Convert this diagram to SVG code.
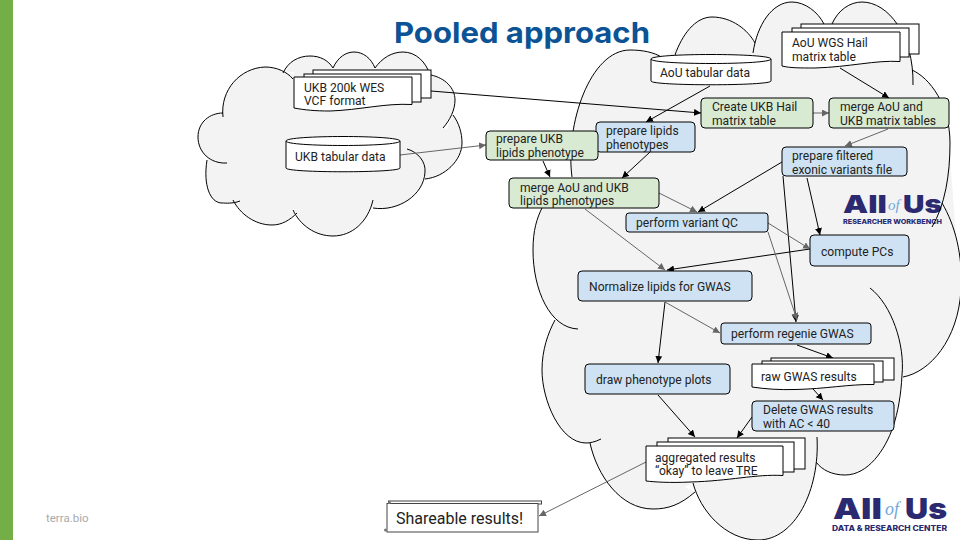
<svg xmlns="http://www.w3.org/2000/svg" xmlns:xlink="http://www.w3.org/1999/xlink" width="960" height="540" viewBox="0 0 960 540">
<style>
text{font-family:Roboto,"Liberation Sans",sans-serif;font-size:12.1px;fill:#222}
.title{font-family:Inter,"Liberation Sans",sans-serif;font-weight:700;font-size:29px;fill:#0b5394}
.s{stroke:#000;stroke-width:1;fill:#fff}
.g{stroke:#000;stroke-width:1;fill:#d9ead3}
.b{stroke:#000;stroke-width:1;fill:#cfe2f3}
.k line{stroke:#000;stroke-width:1;marker-end:url(#ak)}
.h line{stroke:#666;stroke-width:1;marker-end:url(#ah)}
.logo{font-family:Inter,"Liberation Sans",sans-serif;font-weight:900;fill:#2b2a70}
.of{font-family:"Liberation Serif",serif;font-style:italic;fill:#6fa8dc}
.sub{font-family:Inter,"Liberation Sans",sans-serif;font-weight:800;fill:#2b2a70}
.cf{fill:#f3f3f3;stroke:none}
.cp{fill:#f3f3f3;stroke:#f3f3f3;stroke-width:2}
.cs{fill:none;stroke:#000;stroke-width:1}
</style>
<defs>
<marker id="ak" markerWidth="8" markerHeight="8" refX="7" refY="3.500" orient="auto" markerUnits="userSpaceOnUse"><path d="M0,0L7,3.500L0,7z" fill="#000"/></marker>
<marker id="ah" markerWidth="8" markerHeight="8" refX="7" refY="3.500" orient="auto" markerUnits="userSpaceOnUse"><path d="M0,0L7,3.500L0,7z" fill="#666"/></marker>
<path id="lc" d="M223,117C220,90 240,68 265,67C277,67 287,72 293,79M283,73C288,62 298,56 310,56C320,56 328,60 333,68M333,68C338,57 346,52 354,52C363,52 371,58 375,68M375,68C382,58 392,52 403,52C416,52 426,62 430,75M431,75C445,78 455,88 455,100C455,110 450,120 443,128M453,115C459,123 462,133 462,143C462,160 445,177 425,179M407,149C418,152 426,162 425,172C424,195 398,212 373,208M373,200C368,222 352,236 333,236C315,236 300,225 293,210M297,213C290,220 282,225 272,225C255,225 240,214 233,200M240,201C232,204 226,203 222,203C210,203 203,185 207,160M227,163C210,164 198,152 198,137C198,122 210,113 223,113"/>
<path id="rc" d="M572,177C565,125 590,50 630,50C642,50 654,52 663,58M675,55C682,35 695,17 712,17C732,17 748,30 755,43M753,53C757,25 772,2 792,2C805,2 818,12 824,24M832,24C838,10 850,2 862,2C888,2 914,35 913,85M912,70C930,78 950,105 950,143C950,175 945,205 932,227M942,203C955,225 963,255 961,290C958,340 930,372 903,377M870,288C892,305 905,345 902,375C901,395 898,412 893,427C885,450 868,475 845,475C832,475 822,470 816,462M817,437C820,490 795,540 758,540C725,540 700,510 693,483M695,492C680,505 668,509 653,509C620,509 597,475 590,443M601,439C595,442 590,443 586,443C560,443 542,400 542,370C542,350 548,333 555,320M578,329C550,328 533,290 533,250C533,230 537,218 542,208"/>
</defs>
<rect width="960" height="540" fill="#fff"/>
<rect id="sidebar" x="0" y="0" width="13" height="540" fill="#74ae46"/>
<text id="title" class="title" x="394" y="43" textLength="256" lengthAdjust="spacingAndGlyphs">Pooled approach</text>
<text id="terra" x="46" y="522" style="font-size:11.500px;fill:#aaa">terra.bio</text>

<g id="cloud-fills">
<use xlink:href="#lc" href="#lc" class="cf"/>
<polygon class="cp" points="225,117 262,72 293,75 310,60 333,70 354,56 375,70 403,56 430,77 452,100 443,128 460,143 425,177 420,180 373,206 333,233 293,208 272,222 240,200 222,200 209,160 200,137"/>
<use xlink:href="#rc" href="#rc" class="cf"/>
<polygon class="cp" points="574,177 630,52 663,60 712,19 755,45 792,4 824,26 862,4 911,72 948,143 959,290 901,375 891,427 845,473 816,460 758,538 693,481 653,507 592,441 544,370 557,320 535,250 544,208"/>
</g>

<g id="logo-workbench">
<text class="logo" x="843" y="213" style="font-size:25px" textLength="44" lengthAdjust="spacingAndGlyphs">All</text>
<text class="of" x="888" y="210" style="font-size:15px">of</text>
<text class="logo" x="903" y="213" style="font-size:25px" textLength="39" lengthAdjust="spacingAndGlyphs">Us</text>
<text class="sub" x="843" y="223.500" style="font-size:6.500px" textLength="99" lengthAdjust="spacingAndGlyphs">RESEARCHER WORKBENCH</text>
</g>

<g id="cloud-strokes">
<use xlink:href="#lc" href="#lc" class="cs"/>
<use xlink:href="#rc" href="#rc" class="cs"/>
</g>

<g id="connectors">
<g class="k">
<line x1="431" y1="91" x2="701" y2="113"/>
<line x1="543" y1="161" x2="550" y2="177"/>
<line x1="710" y1="86" x2="646" y2="122"/>
<line x1="650" y1="152" x2="622" y2="178"/>
<line x1="840" y1="68" x2="889" y2="98"/>
<line x1="782" y1="162" x2="698" y2="212"/>
<line x1="807" y1="178" x2="820" y2="235"/>
<line x1="783" y1="176" x2="796" y2="322"/>
<line x1="810" y1="249" x2="667" y2="270"/>
<line x1="665" y1="302" x2="658" y2="363"/>
<line x1="797" y1="345" x2="833" y2="358"/>
<line x1="813" y1="389" x2="823" y2="400"/>
<line x1="752" y1="417" x2="737" y2="438"/>
<line x1="658" y1="395" x2="695" y2="437"/>
</g>
<g class="h">
<line x1="400" y1="155" x2="486" y2="145"/>
<line x1="813" y1="113" x2="829" y2="113"/>
<line x1="888" y1="129" x2="845" y2="146"/>
<line x1="659" y1="193" x2="697" y2="212"/>
<line x1="768" y1="223" x2="810" y2="249"/>
<line x1="768" y1="232" x2="797" y2="320"/>
<line x1="585" y1="209" x2="665" y2="270"/>
<line x1="665" y1="302" x2="720" y2="333"/>
<line x1="646" y1="462" x2="539" y2="516"/>
</g>
</g>

<g id="ukb-wes">
<rect class="s" x="313" y="70" width="118" height="28"/>
<rect class="s" x="304" y="74" width="117" height="28"/>
<path class="s" d="M294,77H412V104.500C385,103 360,110 330,111C315,111 305,110 294,108Z"/>
<text x="304" y="92">UKB 200k WES</text><text x="304" y="105">VCF format</text>
</g>
<g id="ukb-tabular">
<path class="s" d="M286,141C286,135 400,135 400,141V168C400,173 286,173 286,168Z"/>
<path fill="none" stroke="#000" d="M286,141C286,147 400,147 400,141"/>
<text x="295" y="161">UKB tabular data</text>
</g>
<g id="aou-tabular">
<path class="s" d="M651,59C651,53 771,53 771,59V81C771,86 651,86 651,81Z"/>
<path fill="none" stroke="#000" d="M651,59C651,65 771,65 771,59"/>
<text x="660" y="77">AoU tabular data</text>
</g>
<g id="aou-wgs">
<rect class="s" x="801" y="24" width="118" height="30"/>
<rect class="s" x="792" y="28" width="117" height="29"/>
<path class="s" d="M782,32H900V61.500C875,60 850,67 815,68C800,68 790,68 782,66Z"/>
<text x="792" y="47">AoU WGS Hail</text><text x="792" y="61">matrix table</text>
</g>
<g id="prepare-lipids">
<rect class="b" x="596" y="122" width="99" height="30" rx="4"/>
<text x="606" y="135">prepare lipids</text><text x="606" y="149">phenotypes</text>
</g>
<g id="prepare-ukb">
<rect class="g" x="486" y="131" width="112" height="29" rx="4"/>
<text x="496" y="143">prepare UKB</text><text x="496" y="157">lipids phenotype</text>
</g>
<g id="merge-lipids">
<rect class="g" x="509" y="178" width="150" height="30" rx="4"/>
<text x="520" y="192">merge AoU and UKB</text><text x="520" y="205">lipids phenotypes</text>
</g>
<g id="create-ukb">
<rect class="g" x="701" y="98" width="112" height="30" rx="4"/>
<text x="712" y="111">Create UKB Hail</text><text x="712" y="125">matrix table</text>
</g>
<g id="merge-matrix">
<rect class="g" x="829" y="98" width="120" height="30" rx="4"/>
<text x="840" y="111">merge AoU and</text><text x="840" y="125">UKB matrix tables</text>
</g>
<g id="prepare-filtered">
<rect class="b" x="782" y="147" width="125" height="29" rx="4"/>
<text x="792" y="160">prepare filtered</text><text x="792" y="174">exonic variants file</text>
</g>
<g id="variant-qc">
<rect class="b" x="626" y="213" width="142" height="19" rx="3"/>
<text x="636" y="227">perform variant QC</text>
</g>
<g id="compute-pcs">
<rect class="b" x="810" y="235" width="99" height="31" rx="4"/>
<text x="821" y="256">compute PCs</text>
</g>
<g id="normalize">
<rect class="b" x="578" y="271" width="174" height="30" rx="4"/>
<text x="589" y="291">Normalize lipids for GWAS</text>
</g>
<g id="regenie">
<rect class="b" x="721" y="323" width="150" height="21" rx="3"/>
<text x="731" y="338">perform regenie GWAS</text>
</g>
<g id="draw-plots">
<rect class="b" x="585" y="364" width="145" height="30" rx="4"/>
<text x="596" y="384">draw phenotype plots</text>
</g>
<g id="raw-gwas">
<rect class="s" x="771" y="358" width="123" height="22"/>
<rect class="s" x="762" y="361" width="121" height="21"/>
<path class="s" d="M752,364H874V384.500C850,384 825,389 795,389.500C780,390 765,389 752,387Z"/>
<text x="761" y="381">raw GWAS results</text>
</g>
<g id="delete-gwas">
<rect class="b" x="752" y="401" width="142" height="30" rx="4"/>
<text x="763" y="414">Delete GWAS results</text><text x="763" y="428">with AC &lt; 40</text>
</g>
<g id="aggregated">
<rect class="s" x="668" y="438" width="137" height="31"/>
<rect class="s" x="657" y="442" width="137" height="30"/>
<path class="s" d="M646,446H783V475.500C755,474 730,481 690,482C670,483 655,482 646,481Z"/>
<text x="655" y="462">aggregated results</text><text x="655" y="475">“okay” to leave TRE</text>
</g>
<g id="shareable">
<rect fill="#fff" stroke="#444" x="388.500" y="501" width="153" height="3"/>
<rect fill="#fff" stroke="#444" x="387" y="503.500" width="151" height="28.500"/>
<circle cx="389.500" cy="502.500" r="1.500" fill="#777"/><circle cx="385.500" cy="530" r="1.500" fill="#777"/>
<text x="396" y="524" style="font-size:16px">Shareable results!</text>
</g>
<g id="logo-center">
<text class="logo" x="833" y="518.500" style="font-size:29px" textLength="49" lengthAdjust="spacingAndGlyphs">All</text>
<text class="of" x="885" y="515" style="font-size:18px">of</text>
<text class="logo" x="905" y="518.500" style="font-size:29px" textLength="42" lengthAdjust="spacingAndGlyphs">Us</text>
<text class="sub" x="832" y="531" style="font-size:7px" textLength="115" lengthAdjust="spacingAndGlyphs">DATA &amp; RESEARCH CENTER</text>
</g>
</svg>
